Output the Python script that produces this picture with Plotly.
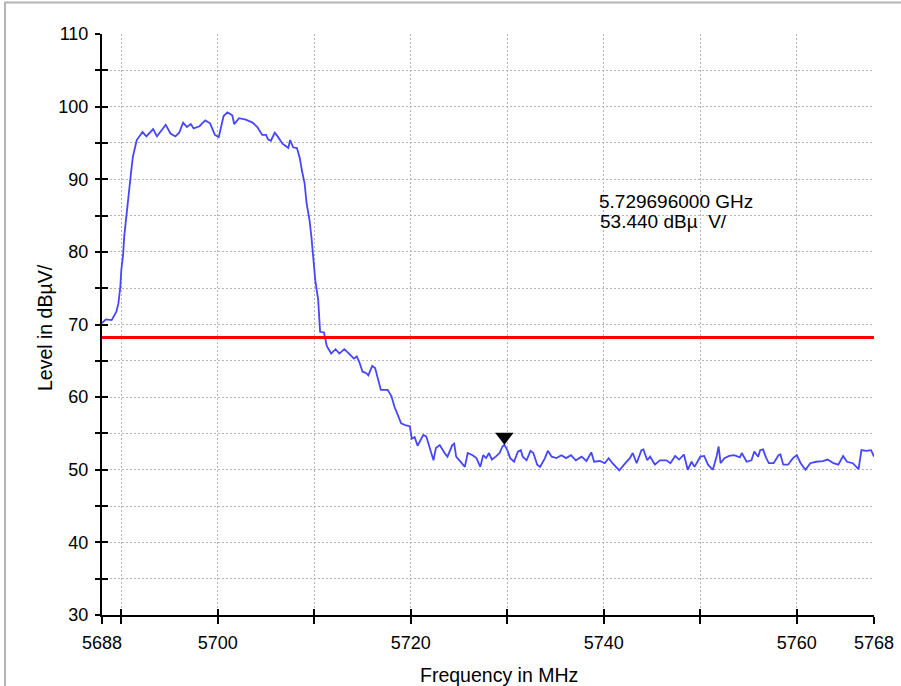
import plotly.graph_objects as go

# Spectrum sweep: frequency (MHz) and measured level (dBµV)
freq_mhz = [
    5688.0, 5688.4, 5689.0, 5689.5, 5689.7, 5689.9, 5690.0, 5690.2, 5690.3, 5690.5,
    5690.7, 5690.85, 5691.0, 5691.2, 5691.4, 5691.6, 5692.2, 5692.6, 5693.3, 5693.7,
    5694.6, 5695.1, 5695.6, 5696.0, 5696.4, 5696.8, 5697.2, 5697.5, 5698.1, 5698.7,
    5699.2, 5699.7, 5700.1, 5700.4, 5700.6, 5701.0, 5701.5, 5701.7, 5702.2, 5702.9,
    5703.6, 5704.1, 5704.6, 5705.0, 5705.2, 5705.5, 5705.9, 5706.2, 5706.7, 5707.1,
    5707.3, 5707.5, 5707.8, 5708.2, 5708.5, 5708.7, 5709.0, 5709.2, 5709.5, 5709.7,
    5709.9, 5710.1, 5710.4, 5710.5, 5710.6, 5711.0, 5711.2, 5711.3, 5711.75, 5712.2,
    5712.6, 5713.1, 5713.6, 5714.1, 5714.4, 5714.7, 5715.0, 5715.4, 5715.6, 5716.0,
    5716.3, 5716.6, 5716.9, 5717.6, 5718.0, 5718.3, 5718.7, 5719.0, 5719.5, 5719.9,
    5720.1, 5720.4, 5720.7, 5721.3, 5721.6, 5722.0, 5722.35, 5722.6, 5723.0, 5723.5,
    5723.8, 5724.3, 5724.5, 5724.7, 5725.2, 5725.6, 5725.9, 5726.4, 5726.8, 5727.2,
    5727.5, 5727.8, 5728.1, 5728.4, 5728.8, 5729.2, 5729.5, 5729.696, 5730.0, 5730.3,
    5730.7, 5731.1, 5731.4, 5731.6, 5732.0, 5732.4, 5732.7, 5733.1, 5733.4, 5733.9,
    5734.2, 5734.6, 5735.1, 5735.6, 5736.1, 5736.6, 5737.1, 5737.7, 5738.2, 5738.5,
    5738.7, 5739.0, 5739.6, 5740.1, 5740.5, 5740.9, 5741.6, 5742.1, 5742.7, 5743.0,
    5743.4, 5743.9, 5744.1, 5744.5, 5744.8, 5745.3, 5745.8, 5746.5, 5746.9, 5747.4,
    5747.8, 5748.3, 5748.7, 5749.1, 5749.4, 5750.0, 5750.4, 5750.8, 5751.3, 5751.7,
    5751.9, 5752.1, 5752.5, 5753.0, 5753.5, 5754.1, 5754.3, 5754.8, 5755.3, 5755.6,
    5756.0, 5756.2, 5756.5, 5756.8, 5757.1, 5757.6, 5758.1, 5758.3, 5758.6, 5759.1,
    5759.6, 5760.0, 5760.4, 5760.9, 5761.4, 5762.0, 5762.7, 5763.2, 5763.8, 5764.3,
    5764.8, 5765.2, 5765.8, 5766.4, 5766.7, 5767.2, 5767.7, 5768.0,
]
level_dbuv = [
    70.2, 70.7, 70.6, 71.8, 72.9, 75.2, 77.5, 79.8, 82.1, 84.8,
    86.7, 89.0, 90.8, 93.1, 94.5, 95.4, 96.5, 95.9, 96.9, 95.9,
    97.5, 96.3, 95.9, 96.4, 97.8, 97.2, 97.6, 97.0, 97.3, 98.1,
    97.7, 96.1, 95.8, 97.7, 98.7, 99.2, 98.8, 97.6, 98.4, 98.2,
    97.8, 97.2, 96.1, 96.1, 95.5, 95.3, 96.4, 95.9, 94.9, 94.5,
    94.3, 95.4, 94.4, 94.3, 92.9, 91.3, 89.4, 86.7, 84.4, 82.1,
    79.3, 76.1, 73.4, 70.6, 69.0, 68.9, 67.9, 67.0, 66.0, 66.6,
    66.0, 66.6, 66.0, 65.3, 65.6, 64.7, 63.5, 63.3, 63.0, 64.3,
    64.0, 62.6, 61.0, 61.0, 60.1, 58.7, 57.5, 56.4, 56.1, 56.0,
    54.3, 54.5, 53.3, 54.8, 54.6, 53.0, 51.3, 53.0, 53.4, 52.3,
    51.8, 53.4, 53.6, 51.8, 51.1, 50.4, 52.3, 52.0, 51.6, 50.4,
    52.0, 51.6, 52.3, 51.4, 51.8, 52.3, 53.2, 53.44, 52.7, 51.6,
    51.1, 52.5, 52.7, 51.8, 51.3, 52.6, 52.3, 50.7, 50.4, 51.6,
    52.6, 51.8, 51.6, 52.0, 51.6, 52.0, 51.3, 51.8, 51.2, 52.0,
    52.4, 51.1, 51.2, 50.9, 51.6, 50.9, 49.9, 50.7, 51.6, 52.3,
    50.9, 52.7, 52.8, 51.3, 51.8, 50.7, 51.3, 51.3, 50.9, 51.9,
    51.4, 52.1, 50.0, 51.1, 50.4, 51.8, 51.9, 50.7, 50.0, 51.9,
    53.2, 50.9, 51.6, 51.9, 52.0, 51.7, 52.3, 51.1, 51.3, 52.5,
    51.8, 52.7, 52.8, 51.7, 50.9, 50.9, 52.0, 52.1, 50.7, 50.7,
    51.6, 52.0, 50.9, 50.0, 50.9, 51.1, 51.2, 51.4, 50.9, 50.7,
    51.9, 51.1, 50.9, 50.1, 52.7, 52.6, 52.7, 51.8,
]

# Limit line and marker readout
limit_dbuv = 68.2
marker_freq_mhz = 5729.696
marker_level_dbuv = 53.44

# Axis setup
x_range = [5688, 5768]
y_range = [30, 110]
x_tickvals = [5688, 5690, 5700, 5710, 5720, 5730, 5740, 5750, 5760, 5768]
x_ticktext = ["5688", "", "5700", "", "5720", "", "5740", "", "5760", "5768"]
y_tickvals = [30, 40, 50, 60, 70, 80, 90, 100, 110]
y_minorvals = [35, 45, 55, 65, 75, 85, 95, 105]

GRID = "#b4b4b4"
GRID_DASH = "2px,2px"
TICK_FONT = dict(family="Liberation Sans, Arial, sans-serif", size=18, color="black")
TEXT_FONT = dict(family="Liberation Sans, Arial, sans-serif", size=19, color="black")

fig = go.Figure()

fig.add_trace(go.Scatter(
    x=freq_mhz, y=level_dbuv, mode="lines",
    line=dict(color="#4646ff", width=1.8),
    hoverinfo="x+y", showlegend=False,
))

fig.add_trace(go.Scatter(
    x=x_range, y=[limit_dbuv, limit_dbuv], mode="lines",
    line=dict(color="#ff0000", width=3),
    xaxis="x", yaxis="y2", showlegend=False,
))

# Marker: triangle pointing down with its tip on the measured point
fig.add_trace(go.Scatter(
    x=[marker_freq_mhz], y=[marker_level_dbuv], mode="markers",
    marker=dict(symbol="triangle-up", angle=180, standoff=8, size=16,
                color="black", line=dict(width=0)),
    xaxis="x2", yaxis="y", showlegend=False,
))

axis_common = dict(showline=True, linecolor="black", linewidth=2,
                   tickcolor="black", tickwidth=2, zeroline=False, automargin=False)

fig.update_layout(
    width=901, height=686,
    margin=dict(l=102, r=27, t=34, b=71),
    paper_bgcolor="white", plot_bgcolor="white",
    xaxis=dict(
        range=x_range, tickmode="array", tickvals=x_tickvals, ticktext=x_ticktext,
        ticks="outside", ticklen=7, tickfont=TICK_FONT, ticklabelstandoff=3,
        showgrid=True, gridcolor=GRID, griddash=GRID_DASH, gridwidth=1,
        **axis_common,
    ),
    xaxis2=dict(
        range=x_range, overlaying="x", anchor="y", side="bottom",
        tickmode="array", tickvals=x_tickvals, ticks="inside", ticklen=6,
        showticklabels=False, showgrid=False, **axis_common,
    ),
    yaxis=dict(
        range=y_range, tickmode="array", tickvals=y_tickvals,
        ticks="outside", ticklen=5, tickfont=TICK_FONT, ticklabelstandoff=3,
        showgrid=True, gridcolor=GRID, griddash=GRID_DASH, gridwidth=1,
        minor=dict(tickvals=y_minorvals, ticks="outside", ticklen=5,
                   tickcolor="black", tickwidth=2,
                   showgrid=True, gridcolor=GRID, griddash=GRID_DASH, gridwidth=1),
        **axis_common,
    ),
    yaxis2=dict(
        range=y_range, overlaying="y", anchor="x", side="left",
        tickmode="array", tickvals=y_tickvals, ticks="inside", ticklen=6,
        showticklabels=False, showgrid=False,
        minor=dict(tickvals=y_minorvals, ticks="inside", ticklen=6,
                   tickcolor="black", tickwidth=2, showgrid=False),
        **axis_common,
    ),
    shapes=[dict(type="rect", xref="paper", yref="paper",
                 x0=-0.1256, x1=1.2, y0=-0.3, y1=1.0542,
                 line=dict(color="#b4b4b4", width=2), layer="below")],
    annotations=[
        dict(text=f"{marker_freq_mhz / 1000:.9f} GHz", xref="paper", yref="paper",
             x=0.641, y=0.7114, xanchor="left", yanchor="middle",
             showarrow=False, font=TEXT_FONT),
        dict(text=f"{marker_level_dbuv:.3f} dBµ  V/", xref="paper", yref="paper",
             x=0.643, y=0.677, xanchor="left", yanchor="middle",
             showarrow=False, font=TEXT_FONT),
        dict(text="Level in dBµV/", xref="paper", yref="paper",
             x=-0.0738, y=0.494, xanchor="center", yanchor="middle", textangle=-90,
             showarrow=False, font=dict(TEXT_FONT, size=19.5)),
        dict(text="Frequency in MHz", xref="paper", yref="paper",
             x=0.514, y=-0.1033, xanchor="center", yanchor="middle",
             showarrow=False, font=dict(TEXT_FONT, size=19.5)),
    ],
)

fig.write_html("out.html")
